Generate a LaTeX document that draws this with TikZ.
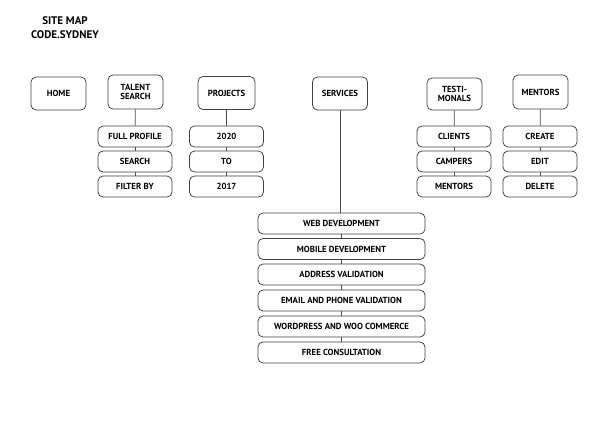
\documentclass[tikz,border=0pt]{standalone}
\usepackage{fontspec}
\setmainfont{PT Sans}
\begin{document}
\begin{tikzpicture}[x=1pt,y=-1pt,
  every node/.style={font=\bfseries\fontsize{8.8}{9.5}\selectfont, text=black},
  topbox/.style={draw=black!75, line width=0.75pt, rounded corners=5pt, minimum width=55pt, align=center, inner sep=1pt},
  subbox/.style={draw=black!75, line width=0.75pt, rounded corners=5pt, minimum width=74pt, minimum height=21pt, inner sep=1pt},
  svcbox/.style={draw=black!75, line width=0.75pt, rounded corners=5pt, minimum width=167pt, minimum height=21pt, inner sep=1pt},
  link/.style={draw=black!70, line width=0.75pt}]
\useasboundingbox (0,0) rectangle (596,421);
\fill[white] (0,0) rectangle (596,421);
\node[font=\bfseries\fontsize{11}{14}\selectfont, align=center] (title) at (65,28) {SITE MAP\\CODE.SYDNEY};

\node[topbox, minimum height=33pt] (home) at (58.5,93.5) {HOME};
\node[topbox, minimum height=34pt] (talent) at (135.5,92) {TALENT\\SEARCH};
\node[topbox, minimum height=33pt, minimum width=57pt] (projects) at (226.5,93) {PROJECTS};
\node[topbox, minimum height=33pt] (services) at (340,93.5) {SERVICES};
\node[topbox, minimum height=32pt] (testi) at (454.5,94) {TESTI-\\MONALS};
\node[topbox, minimum height=34pt] (mentors) at (540.5,92) {MENTORS};

\node[subbox] (t1) at (135,136.5) {FULL PROFILE};
\node[subbox] (t2) at (135,161.5) {SEARCH};
\node[subbox] (t3) at (135,186.5) {FILTER BY};

\node[subbox] (p1) at (226.5,136.5) {2020};
\node[subbox] (p2) at (226.5,161.5) {TO};
\node[subbox] (p3) at (226.5,186.5) {2017};

\node[subbox] (c1) at (454,136.5) {CLIENTS};
\node[subbox] (c2) at (454,161.5) {CAMPERS};
\node[subbox] (c3) at (454,186.5) {MENTORS};

\node[subbox] (m1) at (540,136.5) {CREATE};
\node[subbox] (m2) at (540,161.5) {EDIT};
\node[subbox] (m3) at (540,186.5) {DELETE};

\node[svcbox] (s1) at (341.5,223.5) {WEB DEVELOPMENT};
\node[svcbox] (s2) at (341.5,249) {MOBILE DEVELOPMENT};
\node[svcbox] (s3) at (341.5,274.5) {ADDRESS VALIDATION};
\node[svcbox] (s4) at (341.5,300.5) {EMAIL AND PHONE VALIDATION};
\node[svcbox] (s5) at (341.5,326.5) {WORDPRESS AND WOO COMMERCE};
\node[svcbox] (s6) at (341.5,352.5) {FREE CONSULTATION};

\draw[link] (talent) -- (t1);
\draw[link] (t1) -- (t2);
\draw[link] (t2) -- (t3);
\draw[link] (projects) -- (p1);
\draw[link] (p1) -- (p2);
\draw[link] (p2) -- (p3);
\draw[link] (testi) -- (c1);
\draw[link] (c1) -- (c2);
\draw[link] (c2) -- (c3);
\draw[link] (mentors) -- (m1);
\draw[link] (m1) -- (m2);
\draw[link] (m2) -- (m3);
\draw[link] (services.south) -- (services.south |- s1.north);
\draw[link] (s1) -- (s2);
\draw[link] (s2) -- (s3);
\draw[link] (s3) -- (s4);
\draw[link] (s4) -- (s5);
\draw[link] (s5) -- (s6);
\end{tikzpicture}
\end{document}
